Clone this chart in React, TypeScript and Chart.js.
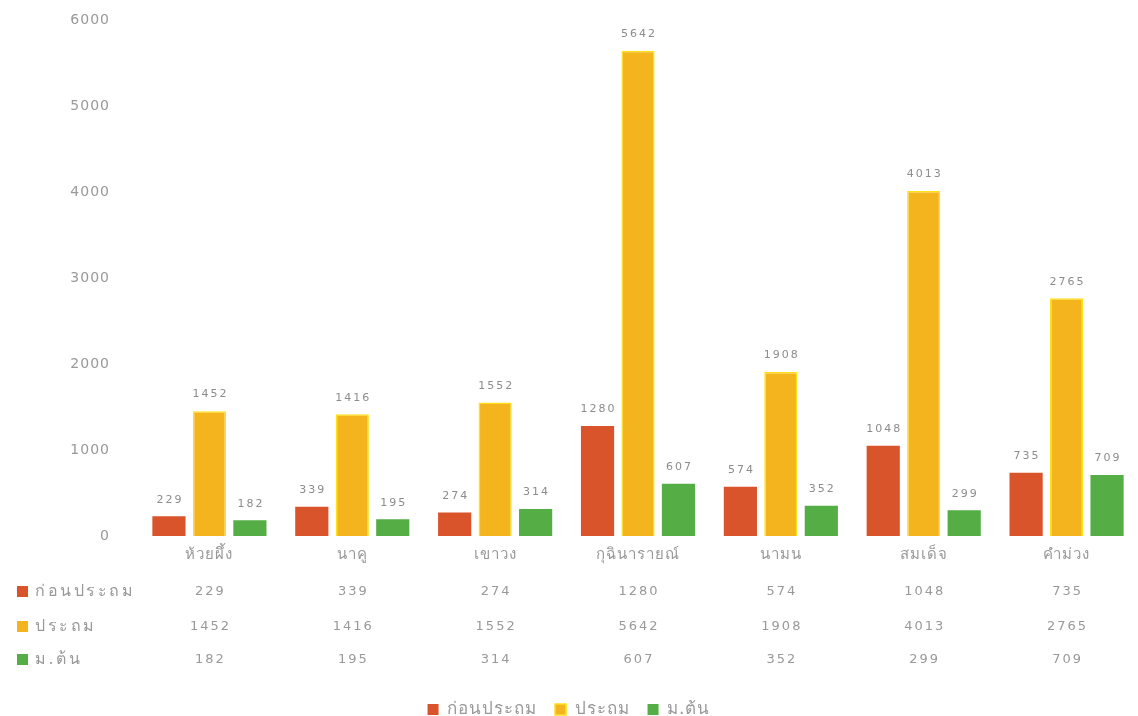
import React, { useEffect, useRef } from "react";
import { Chart, registerables } from "chart.js";

Chart.register(...registerables);

const categories = ["ห้วยผึ้ง", "นาคู", "เขาวง", "กุฉินารายณ์", "นามน", "สมเด็จ", "คำม่วง"];
const seriesNames = ["ก่อนประถม", "ประถม", "ม.ต้น"];
const preschool = [229, 339, 274, 1280, 574, 1048, 735];
const primary = [1452, 1416, 1552, 5642, 1908, 4013, 2765];
const lowerSecondary = [182, 195, 314, 607, 352, 299, 709];
const yTicks = [0, 1000, 2000, 3000, 4000, 5000, 6000];

const barColors = ["#D9532B", "#F4B41E", "#55AE45"];
const borderColors = ["#D9532B", "#FFE11A", "#55AE45"];
const FONT = "'DejaVu Sans', 'Noto Sans', sans-serif";
const TEXT = "#999999";

const spacingPlugin = {
  id: "spacing",
  beforeUpdate(chart: any) {
    chart.ctx.letterSpacing = "1px";
  },
  beforeDraw(chart: any) {
    chart.ctx.letterSpacing = "1px";
  },
};

const labelsPlugin = {
  id: "valueLabels",
  afterDatasetsDraw(chart: any) {
    const ctx = chart.ctx;
    ctx.save();
    ctx.font = `11px ${FONT}`;
    ctx.letterSpacing = "2px";
    ctx.fillStyle = "#8c8c8c";
    ctx.textAlign = "center";
    ctx.textBaseline = "bottom";
    chart.data.datasets.forEach((ds: any, di: number) => {
      const meta = chart.getDatasetMeta(di);
      meta.data.forEach((bar: any, i: number) => {
        ctx.fillText(String(ds.data[i]), bar.x + 1, bar.y - 11);
      });
    });
    ctx.restore();
  },
};

const tablePlugin = {
  id: "dataTable",
  afterDraw(chart: any) {
    const ctx = chart.ctx;
    const xs = chart.scales.x;
    const rows = [preschool, primary, lowerSecondary];
    const rowY = [592, 627, 660];
    ctx.save();
    ctx.textBaseline = "middle";
    rows.forEach((vals, r) => {
      const y = rowY[r];
      ctx.fillStyle = barColors[r];
      ctx.fillRect(17, y - 6, 11, 11);
      ctx.fillStyle = TEXT;
      ctx.textAlign = "left";
      ctx.font = `16px ${FONT}`;
      ctx.letterSpacing = "2.5px";
      ctx.fillText(seriesNames[r], 35, y);
      ctx.textAlign = "center";
      ctx.font = `13px ${FONT}`;
      ctx.letterSpacing = "2px";
      vals.forEach((v, i) => {
        ctx.fillText(String(v), xs.getPixelForValue(i) + 1, y);
      });
    });
    ctx.restore();
  },
};

export default function App() {
  const ref = useRef<HTMLCanvasElement | null>(null);
  useEffect(() => {
    if (!ref.current) return;
    const chart = new Chart(ref.current, {
      type: "bar",
      data: {
        labels: categories,
        datasets: [preschool, primary, lowerSecondary].map((d, i) => ({
          label: seriesNames[i],
          data: d,
          backgroundColor: barColors[i],
          borderColor: borderColors[i],
          borderWidth: i === 1 ? 1.5 : 0,
          categoryPercentage: 0.85,
          barPercentage: 0.82,
        })),
      },
      options: {
        animation: false,
        responsive: true,
        maintainAspectRatio: false,
        layout: { padding: { top: 0, left: 0, right: 0, bottom: -12 } },
        plugins: {
          tooltip: { enabled: false },
          legend: {
            position: "bottom",
            labels: {
              boxWidth: 11,
              boxHeight: 11,
              padding: 18,
              color: TEXT,
              font: { family: FONT, size: 17 },
            },
          },
        },
        scales: {
          x: {
            grid: { display: false },
            border: { display: false },
            ticks: { color: TEXT, font: { family: FONT, size: 15 }, padding: 2 },
            afterFit: (scale: any) => {
              scale.height = 147;
            },
          },
          y: {
            min: 0,
            max: 6000,
            grid: { display: false },
            border: { display: false },
            afterBuildTicks: (scale: any) => {
              scale.ticks = yTicks.map((v) => ({ value: v }));
            },
            afterFit: (scale: any) => {
              scale.width = 138;
              scale.paddingTop = 20;
              scale.paddingBottom = 8;
            },
            ticks: {
              color: TEXT,
              font: { family: FONT, size: 14 },
              padding: 20,
              callback: (v: any) => String(v),
            },
          },
        },
      },
      plugins: [spacingPlugin, labelsPlugin, tablePlugin],
    });
    return () => chart.destroy();
  }, []);
  return (
    <div style={{ position: "fixed", left: 0, top: 0, width: 1138, height: 716, background: "#fff" }}>
      <canvas ref={ref} />
    </div>
  );
}
